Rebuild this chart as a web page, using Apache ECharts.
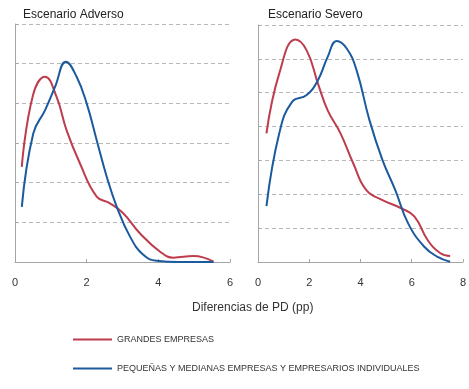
<!DOCTYPE html>
<html>
<head>
<meta charset="utf-8">
<script src="https://cdn.jsdelivr.net/npm/echarts@6/dist/echarts.min.js"></script>
<style>html,body{margin:0;padding:0;background:#fff}#c{width:469px;height:389px}</style>
</head>
<body>
<div id="c"></div>
<script>
var panelTitles = ['Escenario Adverso', 'Escenario Severo'];
var seriesNames = ['GRANDES EMPRESAS', 'PEQUEÑAS Y MEDIANAS EMPRESAS Y EMPRESARIOS INDIVIDUALES'];
var axisName = 'Diferencias de PD (pp)';

// Escenario Adverso
var advGrandesX = [0.19, 0.5, 0.84, 1.16, 1.44, 1.81, 2.28, 2.65, 3.02, 3.49, 4.05, 4.42, 4.98, 5.54];
var advGrandesY = [2.40, 4.2, 4.67, 4.16, 3.32, 2.49, 1.65, 1.48, 1.23, 0.72, 0.26, 0.11, 0.15, 0.01];
var advPymesX = [0.19, 0.51, 0.84, 1.12, 1.42, 1.72, 2.0, 2.28, 2.56, 2.84, 3.21, 3.58, 3.95, 4.6, 5.54];
var advPymesY = [1.39, 3.24, 3.83, 4.42, 5.05, 4.67, 4.0, 3.07, 2.15, 1.39, 0.64, 0.18, 0.03, 0.0, 0.0];

// Escenario Severo
var sevGrandesX = [0.33, 0.83, 1.46, 1.90, 2.34, 2.72, 3.22, 3.72, 4.23, 4.86, 5.61, 6.11, 6.62, 7.12, 7.50];
var sevGrandesY = [3.80, 5.57, 6.57, 6.25, 5.27, 4.48, 3.80, 2.91, 2.12, 1.83, 1.58, 1.34, 0.65, 0.26, 0.18];
var sevPymesX = [0.33, 0.83, 1.33, 1.90, 2.34, 2.72, 3.07, 3.47, 3.85, 4.35, 4.86, 5.36, 5.86, 6.49, 6.99, 7.50];
var sevPymesY = [1.65, 3.80, 4.73, 4.93, 5.37, 6.06, 6.53, 6.30, 5.66, 4.19, 3.01, 2.12, 1.14, 0.45, 0.16, 0.01];

var xTicksAdv = [0, 2, 4, 6];
var xTicksSev = [0, 2, 4, 6, 8];

function pairs(xs, ys) { return xs.map(function (x, i) { return [x, ys[i]]; }); }

var red = '#bd3d4e', blue = '#1c5a9e';
var axisGray = '#a6a6a6', gridGray = '#b8b8b8';
var font = 'Liberation Sans, Arial, sans-serif';

function xAxis(idx, max) {
  return {
    type: 'value', gridIndex: idx, min: 0, max: max, interval: 2,
    axisLine: { show: true, lineStyle: { color: axisGray, width: 1 } },
    axisTick: { show: true, inside: true, length: 3, lineStyle: { color: axisGray } },
    axisLabel: { color: '#333', fontSize: 11, fontFamily: font, margin: 15, showMaxLabel: true, showMinLabel: true },
    splitLine: { show: false }
  };
}
function yAxis(idx, max) {
  return {
    type: 'value', gridIndex: idx, min: 0, max: max, interval: 1,
    axisLine: { show: true, lineStyle: { color: axisGray, width: 1 } },
    axisTick: { show: true, inside: true, length: 3, lineStyle: { color: axisGray } },
    axisLabel: { show: false },
    splitLine: { show: true, lineStyle: { color: gridGray, type: [4, 3], width: 1 } }
  };
}
function line(name, xi, data, color) {
  return {
    name: name, type: 'line', xAxisIndex: xi, yAxisIndex: xi, data: data,
    smooth: 0.45, showSymbol: false, symbol: 'none',
    lineStyle: { color: color, width: 2 }, itemStyle: { color: color }
  };
}

var chart = echarts.init(document.getElementById('c'), null, { renderer: 'canvas' });
chart.setOption({
  animation: false,
  backgroundColor: '#fff',
  textStyle: { fontFamily: font },
  title: [
    { text: panelTitles[0], left: 18, top: 4, textStyle: { fontSize: 12, fontWeight: 'normal', color: '#222', fontFamily: font } },
    { text: panelTitles[1], left: 263, top: 4, textStyle: { fontSize: 12, fontWeight: 'normal', color: '#222', fontFamily: font } },
    { text: axisName, left: 187, top: 297, textStyle: { fontSize: 12, fontWeight: 'normal', color: '#333', fontFamily: font } }
  ],
  grid: [
    { left: 15, top: 24, width: 215, height: 238 },
    { left: 258, top: 25, width: 212, height: 237 }
  ],
  xAxis: [xAxis(0, 6), xAxis(1, 8)],
  yAxis: [yAxis(0, 6), yAxis(1, 7)],
  legend: {
    orient: 'vertical', left: 68, top: 330, itemGap: 20,
    icon: 'rect', itemWidth: 39, itemHeight: 2,
    textStyle: { fontSize: 9, color: '#333', fontFamily: font },
    data: seriesNames
  },
  series: [
    line(seriesNames[0], 0, pairs(advGrandesX, advGrandesY), red),
    line(seriesNames[1], 0, pairs(advPymesX, advPymesY), blue),
    line(seriesNames[0], 1, pairs(sevGrandesX, sevGrandesY), red),
    line(seriesNames[1], 1, pairs(sevPymesX, sevPymesY), blue)
  ]
});
</script>
</body>
</html>
